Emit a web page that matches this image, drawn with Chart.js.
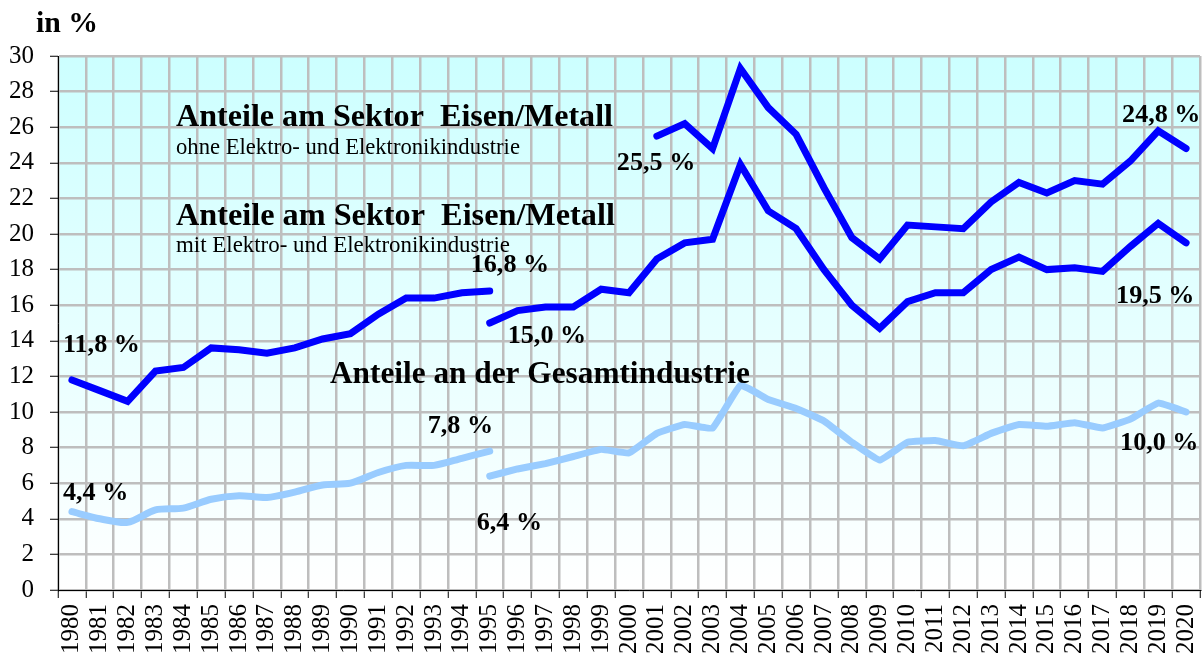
<!DOCTYPE html>
<html><head><meta charset="utf-8">
<script src="https://cdn.jsdelivr.net/npm/chart.js@4/dist/chart.umd.min.js"></script>
<style>html,body{margin:0;padding:0;background:#fff}canvas{display:block}</style>
</head><body>
<canvas id="c" width="1204" height="654"></canvas>
<script>
const years = ["1980","1981","1982","1983","1984","1985","1986","1987","1988","1989","1990","1991","1992","1993","1994","1995","1996","1997","1998","1999","2000","2001","2002","2003","2004","2005","2006","2007","2008","2009","2010","2011","2012","2013","2014","2015","2016","2017","2018","2019","2020"];
const yTicks = [0,2,4,6,8,10,12,14,16,18,20,22,24,26,28,30];
// Anteile am Sektor Eisen/Metall mit Elektro- und Elektronikindustrie
const mitElektro1980 = [11.8, 11.2, 10.6, 12.3, 12.5, 13.6, 13.5, 13.3, 13.6, 14.1, 14.4, 15.5, 16.4, 16.4, 16.7, 16.8];
const mitElektro1995 = [15.0, 15.7, 15.9, 15.9, 16.9, 16.7, 18.6, 19.5, 19.7, 23.9, 21.3, 20.3, 18.0, 16.0, 14.7, 16.2, 16.7, 16.7, 18.0, 18.7, 18.0, 18.1, 17.9, 19.3, 20.6, 19.5];
// ohne Elektro- und Elektronikindustrie
const ohneElektro2001 = [25.5, 26.2, 24.8, 29.3, 27.1, 25.6, 22.6, 19.8, 18.6, 20.5, 20.4, 20.3, 21.8, 22.9, 22.3, 23.0, 22.8, 24.1, 25.8, 24.8];
// Anteile an der Gesamtindustrie
const gesamt1980 = [4.4, 4.0, 3.8, 4.5, 4.6, 5.1, 5.3, 5.2, 5.5, 5.9, 6.0, 6.6, 7.0, 7.0, 7.4, 7.8];
const gesamt1995 = [6.4, 6.8, 7.1, 7.5, 7.9, 7.7, 8.8, 9.3, 9.1, 11.5, 10.7, 10.2, 9.5, 8.3, 7.3, 8.3, 8.4, 8.1, 8.8, 9.3, 9.2, 9.4, 9.1, 9.6, 10.5, 10.0];

function pad(startYear, values) {
  const start = years.indexOf(String(startYear));
  return years.map((y, i) => (i >= start && i - start < values.length) ? values[i - start] : null);
}

const DARK = '#0000FF', LIGHT = '#99CCFF';
const FONT = '"Liberation Serif", "DejaVu Serif", serif';

// value labels: dataset index, year; offsets in px relative to the point
const valueLabels = [
  {ds: 0, year: "1980", dx: -9, dy: -28},
  {ds: 0, year: "1995", dx: -19, dy: -19},
  {ds: 1, year: "1995", dx: 18, dy: 20},
  {ds: 1, year: "2020", dx: -70, dy: 60},
  {ds: 2, year: "2001", dx: -40, dy: 34},
  {ds: 2, year: "2020", dx: -64, dy: -27},
  {ds: 3, year: "1980", dx: -9, dy: -12},
  {ds: 3, year: "1995", dx: -62, dy: -18},
  {ds: 4, year: "1995", dx: -13, dy: 54},
  {ds: 4, year: "2020", dx: -66, dy: 38}
];

const titles = [
  {text: "Anteile am Sektor  Eisen/Metall", x: 176, y: 126, w: 437, bold: true},
  {text: "ohne Elektro- und Elektronikindustrie", x: 176, y: 154, w: 344, bold: false},
  {text: "Anteile am Sektor  Eisen/Metall", x: 176, y: 225, w: 439, bold: true},
  {text: "mit Elektro- und Elektronikindustrie", x: 176, y: 252, w: 334, bold: false},
  {text: "Anteile an der Gesamtindustrie", x: 330, y: 383, w: 420, bold: true},
  {text: "in %", x: 36, y: 32, w: 62, bold: true}
];

function fitFont(ctx, text, bold, width) {
  ctx.font = (bold ? 'bold ' : '') + '100px ' + FONT;
  const m = ctx.measureText(text).width;
  return (bold ? 'bold ' : '') + (100 * width / m).toFixed(2) + 'px ' + FONT;
}

const bgPlugin = {
  id: 'bg',
  beforeDraw(chart) {
    const {ctx, chartArea: a} = chart;
    const g = ctx.createLinearGradient(0, a.top, 0, a.bottom);
    g.addColorStop(0, '#CCFFFF');
    g.addColorStop(1, '#FFFFFF');
    ctx.save();
    ctx.fillStyle = g;
    ctx.fillRect(a.left, a.top, a.right - a.left, a.bottom - a.top);
    ctx.restore();
  }
};

const textPlugin = {
  id: 'texts',
  afterDatasetsDraw(chart) {
    const ctx = chart.ctx;
    ctx.save();
    ctx.fillStyle = '#000';
    ctx.textAlign = 'left';
    ctx.textBaseline = 'alphabetic';
    titles.forEach(t => {
      ctx.font = fitFont(ctx, t.text, t.bold, t.w);
      ctx.fillText(t.text, t.x, t.y);
    });
    const xs = chart.scales.x, ys = chart.scales.y;
    ctx.font = fitFont(ctx, "11,8 %", true, 77);
    valueLabels.forEach(l => {
      const i = years.indexOf(l.year);
      const v = chart.data.datasets[l.ds].data[i];
      const txt = v.toFixed(1).replace('.', ',') + ' %';
      ctx.fillText(txt, xs.getPixelForValue(i) + l.dx, ys.getPixelForValue(v) + l.dy);
    });
    ctx.restore();
  }
};

function ds(data, color) {
  return {data, borderColor: color, backgroundColor: color, borderWidth: 7,
    pointRadius: 0, pointHoverRadius: 0, spanGaps: false, tension: 0,
    borderCapStyle: 'round', borderJoinStyle: 'miter', fill: false};
}

new Chart(document.getElementById('c'), {
  type: 'line',
  data: {
    labels: years,
    datasets: [
      ds(pad(1980, mitElektro1980), DARK),
      ds(pad(1995, mitElektro1995), DARK),
      ds(pad(2001, ohneElektro2001), DARK),
      Object.assign(ds(pad(1980, gesamt1980), LIGHT), {tension: 0.25, borderJoinStyle: 'round'}),
      Object.assign(ds(pad(1995, gesamt1995), LIGHT), {tension: 0.1, borderJoinStyle: 'round'})
    ]
  },
  options: {
    responsive: false,
    animation: false,
    events: [],
    layout: {padding: {top: 56, right: 4, left: 0, bottom: 0}},
    plugins: {legend: {display: false}, tooltip: {enabled: false}, title: {display: false}},
    scales: {
      x: {
        type: 'category',
        offset: true,
        grid: {offset: true, color: '#BEBEBE', lineWidth: 2.5, tickColor: '#000', tickWidth: 1, tickLength: 8, drawOnChartArea: true},
        border: {display: true, color: '#000', width: 1},
        ticks: {autoSkip: false, minRotation: 90, maxRotation: 90, padding: 6, color: '#000', font: {family: FONT, size: 25}},
        afterFit(s) { s.height = 64; s.paddingLeft = 0; s.paddingRight = 0; }
      },
      y: {
        min: 0, max: 30,
        afterBuildTicks(s) { s.ticks = yTicks.map(v => ({value: v})); },
        grid: {color: '#BEBEBE', lineWidth: 2.5, tickColor: '#000', tickWidth: 1, tickLength: 8},
        border: {display: true, color: '#000', width: 1},
        ticks: {padding: 16, color: '#000', font: {family: FONT, size: 25}},
        afterFit(s) { s.width = 58; s.paddingTop = 0; s.paddingBottom = 0; }
      }
    }
  },
  plugins: [bgPlugin, textPlugin]
});
</script>
</body></html>
